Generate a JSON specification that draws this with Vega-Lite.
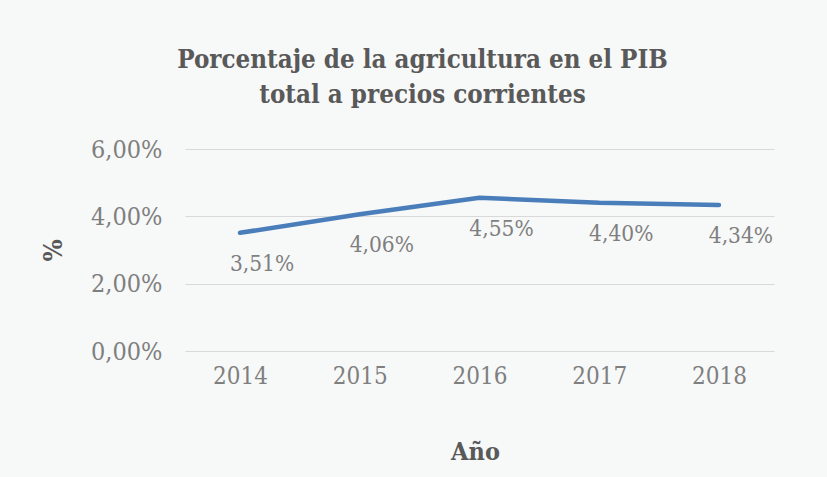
{
  "$schema": "https://vega.github.io/schema/vega-lite/v6.json",
  "width": 589,
  "height": 202,
  "autosize": "none",
  "padding": {"left": 185, "top": 149, "right": 53, "bottom": 126},
  "background": "#f7f8f8",
  "config": {
    "locale": {"number": {"decimal": ",", "thousands": ".", "grouping": [3], "currency": ["", " €"]}},
    "view": {"stroke": null},
    "font": "DejaVu Serif Condensed"
  },
  "title": {
    "text": ["Porcentaje de la agricultura en el PIB", "total a precios corrientes"],
    "font": "DejaVu Serif Condensed",
    "fontSize": 25.7,
    "fontWeight": "bold",
    "color": "#595959",
    "lineHeight": 35,
    "anchor": "middle",
    "dx": -57,
    "offset": 28
  },
  "data": {
    "values": [
      {"year": "2014", "value": 0.0351},
      {"year": "2015", "value": 0.0406},
      {"year": "2016", "value": 0.0455},
      {"year": "2017", "value": 0.0440},
      {"year": "2018", "value": 0.0434}
    ]
  },
  "encoding": {
    "x": {
      "field": "year",
      "type": "ordinal",
      "scale": {"type": "point", "padding": 0.46},
      "axis": {
        "title": "Año",
        "titleFont": "DejaVu Serif Condensed",
        "titleFontSize": 25,
        "titleFontWeight": "bold",
        "titleColor": "#595959",
        "titlePadding": 51,
        "titleX": 290,
        "labelAngle": 0,
        "labelFont": "DejaVu Serif Condensed",
        "labelFontSize": 24,
        "labelColor": "#7f7f7f",
        "labelPadding": 13,
        "ticks": false,
        "domain": false,
        "grid": false
      }
    },
    "y": {
      "field": "value",
      "type": "quantitative",
      "scale": {"domain": [0, 0.06], "nice": false},
      "axis": {
        "values": [0, 0.02, 0.04, 0.06],
        "format": ".2%",
        "title": "%",
        "titleFont": "DejaVu Serif Condensed",
        "titleFontSize": 26,
        "titleFontWeight": "bold",
        "titleColor": "#595959",
        "titlePadding": 24,
        "labelFont": "DejaVu Serif Condensed",
        "labelFontSize": 25,
        "labelColor": "#7f7f7f",
        "labelPadding": 23,
        "ticks": false,
        "domain": false,
        "grid": true,
        "gridColor": "#d9d9d9",
        "gridWidth": 1
      }
    }
  },
  "layer": [
    {
      "mark": {"type": "line", "color": "#4a7ebb", "strokeWidth": 4.5, "strokeCap": "round", "strokeJoin": "round"}
    },
    {
      "mark": {"type": "text", "dx": 22, "dy": 31, "fontSize": 22.5, "font": "DejaVu Serif Condensed", "color": "#7f7f7f"},
      "encoding": {
        "text": {"field": "value", "type": "quantitative", "format": ".2%"}
      }
    }
  ]
}
